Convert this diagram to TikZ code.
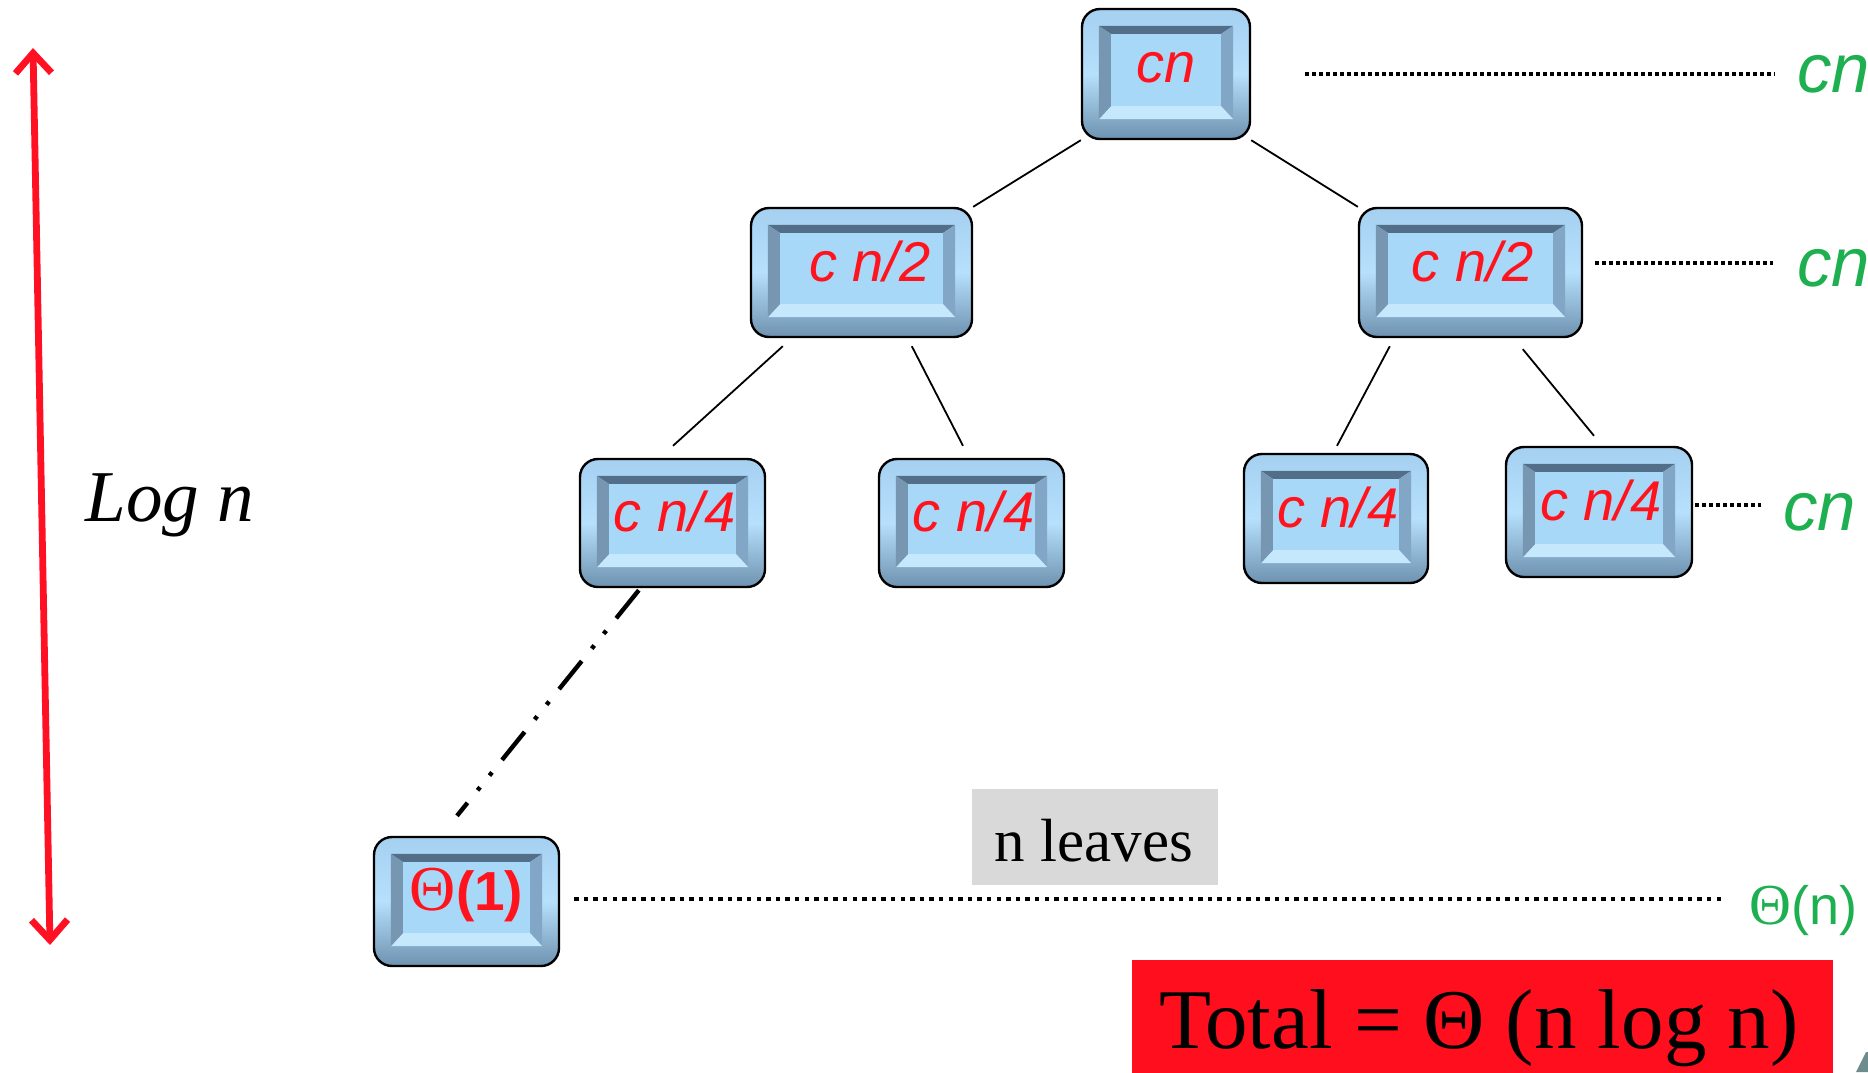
\documentclass[tikz,border=0pt]{standalone}
\usepackage{fontspec}
\setmainfont{Liberation Serif}
\setsansfont{Liberation Sans}
\usetikzlibrary{calc,arrows.meta}
\definecolor{txred}{RGB}{255,20,30}
\definecolor{grn}{RGB}{30,176,80}
\definecolor{rimtop}{RGB}{165,208,240}
\definecolor{rimmid}{RGB}{182,224,252}
\definecolor{rimbot}{RGB}{110,146,176}
\definecolor{facec}{RGB}{168,216,248}
\definecolor{bvtop}{RGB}{82,110,136}
\definecolor{bvleft}{RGB}{118,150,178}
\definecolor{bvright}{RGB}{130,166,198}
\definecolor{bvbot}{RGB}{198,232,252}
\definecolor{arrred}{RGB}{255,16,34}
\definecolor{totred}{RGB}{255,14,30}
\definecolor{leafgray}{RGB}{217,217,217}
\newcommand\bevel[1]{%
  \coordinate (#1-o1) at ($(#1.north west)+(9pt,-9pt)$);
  \coordinate (#1-o2) at ($(#1.north east)+(-9pt,-9pt)$);
  \coordinate (#1-o3) at ($(#1.south east)+(-9pt,10.5pt)$);
  \coordinate (#1-o4) at ($(#1.south west)+(9pt,10.5pt)$);
  \coordinate (#1-i1) at ($(#1.north west)+(15pt,-13pt)$);
  \coordinate (#1-i2) at ($(#1.north east)+(-15pt,-13pt)$);
  \coordinate (#1-i3) at ($(#1.south east)+(-15pt,17pt)$);
  \coordinate (#1-i4) at ($(#1.south west)+(15pt,17pt)$);
  \fill[bvtop] (#1-o1)--(#1-o2)--(#1-i2)--(#1-i1)--cycle;
  \fill[bvright] (#1-o2)--(#1-o3)--(#1-i3)--(#1-i2)--cycle;
  \fill[bvbot] (#1-o3)--(#1-o4)--(#1-i4)--(#1-i3)--cycle;
  \fill[bvleft] (#1-o4)--(#1-o1)--(#1-i1)--(#1-i4)--cycle;
  \fill[facec] (#1-i1)--(#1-i2)--(#1-i3)--(#1-i4)--cycle;
}
\newcommand\mkbox[7]{%
  \node[bx, minimum width=#4pt, minimum height=#5pt] (#1) at (#2,#3) {};
  \bevel{#1}%
  \node[boxtxt] (#1-t) at ($(#1.center)+(#7pt,-4.25pt)$) {#6};
}
\tikzset{
  bx/.style={draw=black, line width=1.2pt, rounded corners=9pt, inner sep=0pt,
    top color=rimtop, bottom color=rimbot, middle color=rimmid},
  boxtxt/.style={font=\sffamily\itshape\fontsize{28}{30}\selectfont, text=txred, inner sep=0pt, anchor=base},
  edge/.style={draw=black, line width=0.9pt},
  dashdot/.style={draw=black, line width=2.2pt, dash pattern=on 18pt off 8pt on 2pt off 7.5pt on 2pt off 8pt},
  dotl/.style={draw=black, line width=1.8pt, dash pattern=on 1.8pt off 1.7pt},
  dotlb/.style={draw=black, line width=2.1pt, dash pattern=on 2.2pt off 2.6pt},
  grlab/.style={font=\sffamily\itshape\fontsize{34.5}{38}\selectfont, text=grn, inner sep=0pt, anchor=base west},
  logarrow/.style={draw=arrred, line width=3.4pt, arrows={Straight Barb[length=10pt,width=18pt]-Straight Barb[length=10pt,width=18pt]}},
}
\begin{document}
\begin{tikzpicture}[x=0.5pt,y=-0.5pt]
\useasboundingbox (0,0) rectangle (1868,1072);
% boxes
\mkbox{cn}{1166}{74}{84}{65}{cn}{0}
\mkbox{l2}{861.5}{272.5}{110.5}{64.5}{c n/2}{4.25}
\mkbox{r2}{1470.5}{272.5}{111.5}{64.5}{c n/2}{1}
\mkbox{a}{672.5}{523}{92.5}{64}{c n/4}{1}
\mkbox{b}{971.5}{523}{92.5}{64}{c n/4}{1}
\mkbox{c}{1336}{518.5}{92}{64.5}{c n/4}{1}
\mkbox{d}{1599}{512}{93}{65}{c n/4}{1}
\node[bx, minimum width=92.5pt, minimum height=64.5pt] (th) at (466.5,901.5) {};
\bevel{th}
\node[text=txred, inner sep=0pt, anchor=base] (th-t) at ($(th.center)+(0,-4.5pt)$) {{\fontsize{32}{34}\selectfont Θ}{\sffamily\bfseries\fontsize{27.5}{30}\selectfont (1)}};
% tree edges
\draw[edge] (cn.south west) -- (l2.north east);
\draw[edge] (cn.south east) -- (r2.north west);
\draw[edge] ($(l2.south west)+(16.5pt,-4pt)$) -- ($(a.north)+(0.25pt,6pt)$);
\draw[edge] ($(l2.south west)+(81pt,-4pt)$) -- ($(b.north)+(-4.25pt,6pt)$);
\draw[edge] ($(r2.south west)+(16pt,-4pt)$) -- ($(c.north)+(0.5pt,3.5pt)$);
\draw[edge] ($(r2.south west)+(82.5pt,-5.5pt)$) -- ($(d.north)+(-2.5pt,5pt)$);
\draw[dashdot] ($(a.south west)+(30pt,-1pt)$) -- ($(th.north)+(-4.75pt,10pt)$);
% green labels
\node[grlab] (g1) at (1797,92) {cn};
\node[grlab] (g2) at (1797,286) {cn};
\node[grlab] (g3) at (1783,530) {cn};
\node[text=grn, inner sep=0pt, anchor=base west] (g4) at (1749,924) {{\fontsize{29}{31}\selectfont Θ}{\sffamily\fontsize{27}{30}\selectfont (n)}};
% dotted level lines
\draw[dotl] ($(cn.east)+(27pt,0)$) coordinate (s1) -- ($(s1 -| g1.west)+(-11pt,0)$);
\draw[dotl] ($(r2.east)+(6pt,4.75pt)$) coordinate (s2) -- ($(s2 -| g2.west)+(-12pt,0)$);
\draw[dotl] ($(d.east)+(1pt,3.5pt)$) coordinate (s3) -- ($(s3 -| g3.west)+(-11pt,0)$);
\draw[dotlb] ($(th.east)+(7pt,1.25pt)$) coordinate (s4) -- ($(s4 -| g4.west)+(-13pt,0)$);
% n leaves
\node[fill=leafgray, minimum width=123pt, minimum height=48pt, inner sep=0pt] (nl) at (1095,837) {};
\node[font=\fontsize{30.5}{34}\selectfont, inner sep=0pt, anchor=base] (nl-t) at (1094,861) {n leaves};
% Log n arrow
\coordinate (ltop) at (33,48);
\coordinate (lbot) at (50,945);
\draw[logarrow] (ltop) -- (lbot);
\node[font=\itshape\fontsize{36.5}{40}\selectfont, inner sep=0pt, anchor=base] (logn) at (170,521) {Log n};
% total
\node[fill=totred, minimum width=350.5pt, minimum height=65pt, inner sep=0pt] (tot) at (1482.5,1025) {};
\node[font=\fontsize{42.5}{46}\selectfont, inner sep=0pt, anchor=base] (tot-t) at (1479,1048) {Total = Θ (n log n)};
% cut-off fragment at corner
\fill[fill={rgb,255:red,110;green,140;blue,140}] (1856,1072) -- (1866,1052) -- (1870,1052) -- (1870,1072) -- cycle;
\end{tikzpicture}
\end{document}
